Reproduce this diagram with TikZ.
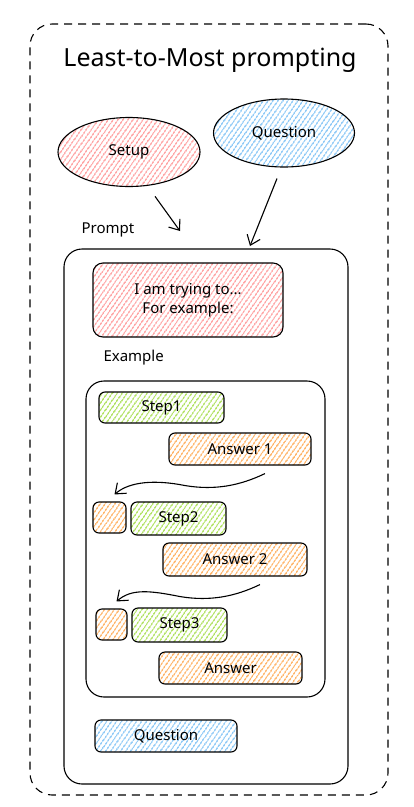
\documentclass[tikz,border=0pt]{standalone}
\usepackage{fontspec}
\setmainfont{Noto Sans}
\usepackage{tikz}
\usetikzlibrary{shapes}
\usetikzlibrary{patterns.meta,arrows.meta}
\usepackage{xcolor}
\definecolor{pinkhatch}{HTML}{FFA8A8}
\definecolor{bluehatch}{HTML}{94CCF7}
\definecolor{greenhatch}{HTML}{B5E36A}
\definecolor{orangehatch}{HTML}{FFB870}
\tikzset{
	hatch/.style={pattern={Lines[angle=55,distance=4pt,line width=1.7pt]},pattern color=#1},
	box/.style={draw,line width=1.1pt,rounded corners=6pt,inner sep=0pt,font=\fontsize{15}{17}\selectfont},
	panel/.style={draw,line width=1.1pt,rounded corners=18pt,inner sep=0pt},
	tag/.style={font=\fontsize{15}{17}\selectfont},
	sketch/.style={->,line width=1.1pt,>={Straight Barb[length=9pt,width=14pt]}},
}

\begin{document}
\begin{tikzpicture}[x=1pt,y=-1pt]
\useasboundingbox (0,0) rectangle (413,807);
\node[panel,dashed,dash pattern=on 8pt off 6pt,rounded corners=22pt,minimum width=358pt,minimum height=771pt] (outer) at (209,409.5) {};
\node[font=\fontsize{25}{28}\selectfont] (title) at (210,60) {Least-to-Most prompting};
% the two inputs
\node[ellipse,draw,line width=1.1pt,hatch=pinkhatch,minimum width=142pt,minimum height=69pt,tag] (setup) at (129,152) {Setup};
\node[ellipse,draw,line width=1.1pt,hatch=bluehatch,minimum width=141pt,minimum height=68pt,tag] (quest) at (284,133) {Question};
\coordinate (setupend) at (180,231);
\coordinate (questend) at (250,246);
\draw[sketch] ([shift={(26,9)}]setup.south) -- (setupend);
\draw[sketch] ([shift={(-7,11)}]quest.south) -- (questend);
% prompt
\node[tag,anchor=west] (promptlbl) at (78,230) {Prompt};
\node[panel,minimum width=284pt,minimum height=535pt] (prompt) at (206,516.5) {};
\node[box,hatch=pinkhatch,rounded corners=10pt,align=center,minimum width=190pt,minimum height=74pt] (intro) at (188,300) {I am trying to...\\[2pt]For example:};
\node[tag,anchor=west] (examplelbl) at (100,358) {Example};
\node[panel,minimum width=239pt,minimum height=316pt] (example) at (205.5,539) {};
% steps and answers
\node[box,hatch=greenhatch,minimum width=125pt,minimum height=31pt] (step1) at (161.5,407.5) {Step1};
\node[box,hatch=orangehatch,minimum width=142pt,minimum height=32pt] (ans1) at (240,449) {Answer 1};
\node[box,hatch=orangehatch,minimum width=33pt,minimum height=31pt] (sq1) at (109.5,517.5) {};
\node[box,hatch=greenhatch,minimum width=95pt,minimum height=33pt] (step2) at (178.5,518.5) {Step2};
\node[box,hatch=orangehatch,minimum width=144pt,minimum height=33pt] (ans2) at (235,559.5) {Answer 2};
\node[box,hatch=orangehatch,minimum width=31pt,minimum height=31pt] (sq2) at (111.5,624.5) {};
\node[box,hatch=greenhatch,minimum width=95pt,minimum height=34pt] (step3) at (179.5,625) {Step3};
\node[box,hatch=orangehatch,minimum width=143pt,minimum height=32pt] (ans3) at (230.5,668) {Answer};
\foreach \a/\s in {ans1/sq1,ans2/sq2} {
	\draw[sketch] ([shift={(25,8)}]\a.south) .. controls +(-25,12) and +(30,5) .. ++(-80,12)
		.. controls +(-30,-6) and +(15,-13) .. ([shift={(5,-7)}]\s.north);
}
\node[box,hatch=bluehatch,minimum width=142pt,minimum height=32pt] (qbox) at (166,736) {Question};
\end{tikzpicture}
\end{document}
